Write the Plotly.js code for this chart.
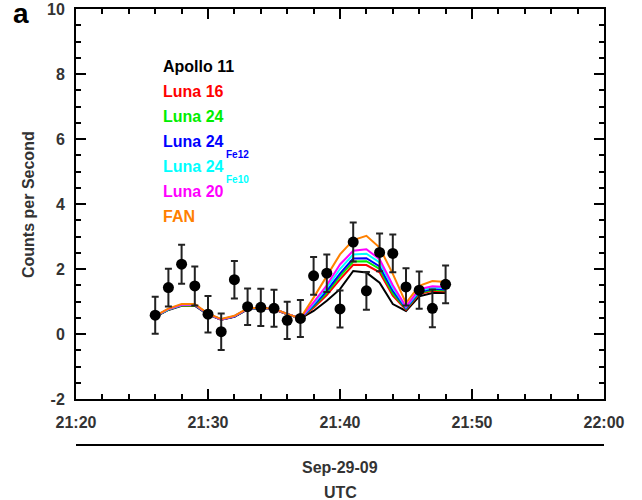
<!DOCTYPE html>
<html>
<head>
<meta charset="utf-8">
<script src="https://cdn.plot.ly/plotly-3.0.1.min.js"></script>
<style>html,body{margin:0;padding:0;background:#fff;}#chart{width:642px;height:500px;}</style>
</head>
<body>
<div id="chart"></div>
<script>
// ---- data ----
const times = [
  '2009-09-29 21:26','2009-09-29 21:27','2009-09-29 21:28','2009-09-29 21:29','2009-09-29 21:30',
  '2009-09-29 21:31','2009-09-29 21:32','2009-09-29 21:33','2009-09-29 21:34','2009-09-29 21:35',
  '2009-09-29 21:36','2009-09-29 21:37','2009-09-29 21:38','2009-09-29 21:39','2009-09-29 21:40',
  '2009-09-29 21:41','2009-09-29 21:42','2009-09-29 21:43','2009-09-29 21:44','2009-09-29 21:45',
  '2009-09-29 21:46','2009-09-29 21:47','2009-09-29 21:48'
];
const observed = [0.58,1.43,2.15,1.48,0.61,0.07,1.67,0.84,0.82,0.79,0.42,0.48,1.79,1.87,0.77,2.83,1.33,2.51,2.48,1.45,1.35,0.79,1.53];
const observedErr = [0.57,0.58,0.60,0.60,0.56,0.56,0.58,0.56,0.57,0.57,0.57,0.57,0.58,0.58,0.57,0.60,0.58,0.58,0.58,0.57,0.57,0.58,0.58];

const apollo11 = [0.53,0.74,0.87,0.87,0.60,0.44,0.53,0.76,0.79,0.76,0.61,0.48, 0.71,1.02,1.38,1.94,1.89,1.58,0.92,0.71,1.16,1.26,1.26];
const luna16   = [0.54,0.75,0.88,0.88,0.61,0.44,0.54,0.77,0.79,0.76,0.61,0.48, 0.81,1.20,1.68,2.13,2.12,1.90,1.18,0.75,1.23,1.33,1.31];
const luna24   = [0.54,0.75,0.88,0.88,0.61,0.45,0.54,0.77,0.80,0.77,0.61,0.48, 0.85,1.27,1.78,2.23,2.24,2.00,1.25,0.77,1.26,1.36,1.34];
const luna24Fe12 = [0.54,0.76,0.89,0.89,0.61,0.45,0.54,0.77,0.80,0.77,0.62,0.48, 0.88,1.33,1.86,2.32,2.33,2.08,1.33,0.79,1.29,1.39,1.37];
const luna24Fe10 = [0.55,0.76,0.89,0.90,0.62,0.45,0.55,0.78,0.80,0.77,0.62,0.48, 0.93,1.42,2.00,2.45,2.47,2.20,1.42,0.82,1.33,1.43,1.41];
const luna20   = [0.55,0.77,0.90,0.90,0.62,0.45,0.55,0.78,0.81,0.77,0.62,0.48, 0.97,1.50,2.14,2.56,2.61,2.30,1.50,0.84,1.38,1.47,1.45];
const fan      = [0.56,0.78,0.92,0.92,0.63,0.46,0.56,0.79,0.81,0.78,0.62,0.48, 1.12,1.79,2.45,2.89,3.02,2.66,1.85,0.95,1.48,1.63,1.60];

const seriesNames = ['Apollo 11','Luna 16','Luna 24','Luna 24','Luna 24','Luna 20','FAN'];
const seriesSubs  = ['','','','Fe12','Fe10','',''];
const seriesColors = ['#000000','#ff0000','#00ee00','#0000ff','#00ffff','#ff00ff','#ff8000'];
const seriesData = [apollo11, luna16, luna24, luna24Fe12, luna24Fe10, luna20, fan];

const yTickVals = [-2,0,2,4,6,8,10];
const yTickText = ['-2','0','2','4','6','8','10'];
const xRange = ['2009-09-29 21:20','2009-09-29 22:00'];
const dateLabel = 'Sep-29-09';
const zoneLabel = 'UTC';
const yTitle = 'Counts per Second';
const panelLabel = 'a';

// ---- build ----
const FONT = 'Liberation Sans, Arial, Helvetica, sans-serif';
const traces = seriesData.map((d,i) => ({
  x: times, y: d, type: 'scatter', mode: 'lines',
  line: {color: seriesColors[i], width: 2},
  name: seriesNames[i] + seriesSubs[i], hoverinfo: 'skip'
}));
traces.push({
  x: times, y: observed, type: 'scatter', mode: 'markers',
  marker: {color: '#000', size: 11},
  error_y: {type: 'data', array: observedErr, visible: true, color: '#222', thickness: 2, width: 3.5},
  name: 'observed'
});

const annotations = [];
const legTop = 66.5, legStep = 25, legX = 161;
seriesNames.forEach((n,i) => {
  annotations.push({
    xref: 'paper', yref: 'paper',
    x: (legX-76)/528, y: 1 - (legTop + i*legStep - 9)/390,
    xanchor: 'left', yanchor: 'middle', showarrow: false,
    text: '<b>'+n+'</b>', font: {family: FONT, size: 16, color: seriesColors[i]}
  });
  if (seriesSubs[i]) {
    annotations.push({
      xref: 'paper', yref: 'paper',
      x: (224-76)/528, y: 1 - (legTop + i*legStep + 12.5 - 9)/390,
      xanchor: 'left', yanchor: 'middle', showarrow: false,
      text: '<b>'+seriesSubs[i]+'</b>', font: {family: FONT, size: 10, color: seriesColors[i]}
    });
  }
});
annotations.push({xref:'paper', yref:'paper', x:(340-76)/528, y:-(467-399)/390, xanchor:'center', yanchor:'middle',
  showarrow:false, text:'<b>'+dateLabel+'</b>', font:{family:FONT, size:16, color:'#333'}});
annotations.push({xref:'paper', yref:'paper', x:(340-76)/528, y:-(492-399)/390, xanchor:'center', yanchor:'middle',
  showarrow:false, text:'<b>'+zoneLabel+'</b>', font:{family:FONT, size:16, color:'#333'}});
annotations.push({xref:'paper', yref:'paper', x:(28-76)/528, y:1-(205-9)/390, xanchor:'center', yanchor:'middle',
  showarrow:false, textangle:-90, text:'<b>'+yTitle+'</b>', font:{family:FONT, size:16, color:'#333'}});
annotations.push({xref:'paper', yref:'paper', x:(21-76)/528, y:1-(14-9)/390, xanchor:'center', yanchor:'middle',
  showarrow:false, text:'<b>'+panelLabel+'</b>', font:{family:FONT, size:28, color:'#000'}});

const layout = {
  width: 642, height: 500,
  margin: {l: 76, r: 38, t: 9, b: 101, pad: 0},
  paper_bgcolor: '#fff', plot_bgcolor: '#fff',
  showlegend: false,
  font: {family: FONT, size: 16, color: '#333'},
  xaxis: {
    type: 'date', range: xRange, dtick: 600000, tickformat: '%H:%M',
    ticks: 'inside', ticklen: 10, tickwidth: 2, tickcolor: '#000',
    minor: {dtick: 120000, ticks: 'inside', ticklen: 5, tickwidth: 2, tickcolor: '#000'},
    showline: true, linecolor: '#000', linewidth: 2, mirror: 'ticks',
    showgrid: false, zeroline: false,
    tickfont: {family: FONT, size: 16, color: '#333', weight: 'bold'},
    ticklabelstandoff: 8
  },
  yaxis: {
    range: [-2, 10], tickvals: yTickVals, ticktext: yTickText,
    ticks: 'inside', ticklen: 10, tickwidth: 2, tickcolor: '#000',
    minor: {dtick: 0.5, ticks: 'inside', ticklen: 5, tickwidth: 2, tickcolor: '#000'},
    showline: true, linecolor: '#000', linewidth: 2, mirror: 'ticks',
    showgrid: false, zeroline: false,
    tickfont: {family: FONT, size: 16, color: '#333', weight: 'bold'},
    ticklabelstandoff: 6
  },
  shapes: [{type:'line', xref:'paper', yref:'paper', x0:0, x1:1, y0:-(445-399)/390, y1:-(445-399)/390,
    line:{color:'#000', width:2}}],
  annotations: annotations
};

Plotly.newPlot('chart', traces, layout, {staticPlot: true, displayModeBar: false});
</script>
</body>
</html>
